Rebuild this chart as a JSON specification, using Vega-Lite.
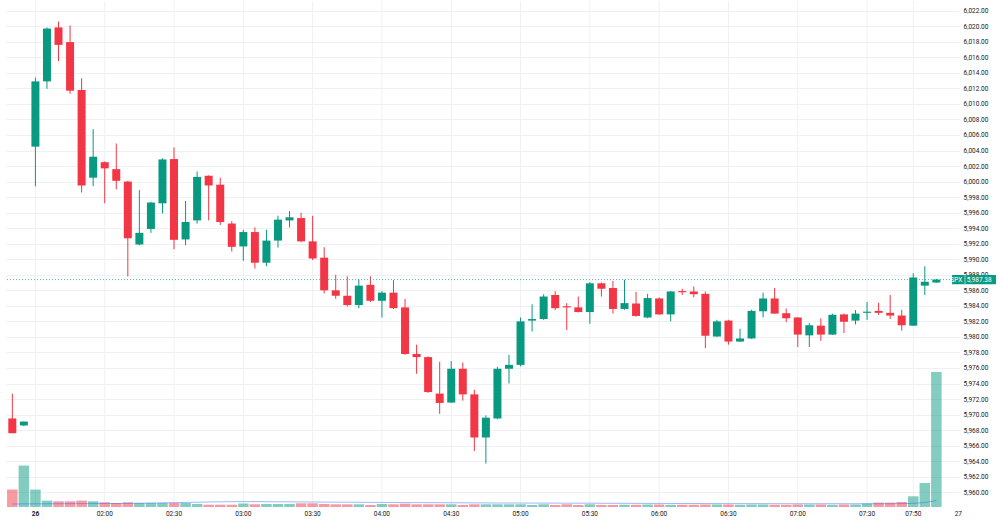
{
  "$schema": "https://vega.github.io/schema/vega-lite/v6.json",
  "width": 953,
  "height": 506,
  "padding": {"left": 5, "top": 0, "right": 0, "bottom": 0},
  "background": "#ffffff",
  "config": {"view": {"stroke": null}, "font": "Roboto"},
  "datasets": {
    "candles": [
      {"t": "2024-12-26T01:20:00Z", "open": 5969.5, "high": 5972.7, "low": 5967.6, "close": 5967.6, "volume": 174, "ma": 30},
      {"t": "2024-12-26T01:25:00Z", "open": 5968.6, "high": 5969.1, "low": 5968.5, "close": 5969.1, "volume": 414, "ma": 31},
      {"t": "2024-12-26T01:30:00Z", "open": 6004.5, "high": 6013.4, "low": 5999.4, "close": 6012.9, "volume": 174, "ma": 32},
      {"t": "2024-12-26T01:35:00Z", "open": 6012.9, "high": 6019.85, "low": 6011.95, "close": 6019.7, "volume": 64, "ma": 32},
      {"t": "2024-12-26T01:40:00Z", "open": 6019.85, "high": 6020.6, "low": 6015.5, "close": 6017.6, "volume": 57, "ma": 33},
      {"t": "2024-12-26T01:45:00Z", "open": 6017.96, "high": 6020.1, "low": 6011.3, "close": 6011.7, "volume": 57, "ma": 33},
      {"t": "2024-12-26T01:50:00Z", "open": 6011.8, "high": 6013.3, "low": 5998.6, "close": 5999.5, "volume": 64, "ma": 34},
      {"t": "2024-12-26T01:55:00Z", "open": 6000.5, "high": 6006.75, "low": 5999.4, "close": 6003.2, "volume": 57, "ma": 34},
      {"t": "2024-12-26T02:00:00Z", "open": 6002.5, "high": 6002.6, "low": 5997.2, "close": 6001.7, "volume": 47, "ma": 35},
      {"t": "2024-12-26T02:05:00Z", "open": 6001.6, "high": 6004.9, "low": 5999.0, "close": 6000.1, "volume": 40, "ma": 35},
      {"t": "2024-12-26T02:10:00Z", "open": 6000.0, "high": 6000.1, "low": 5987.8, "close": 5992.7, "volume": 47, "ma": 36},
      {"t": "2024-12-26T02:15:00Z", "open": 5991.9, "high": 5998.9, "low": 5991.8, "close": 5993.4, "volume": 40, "ma": 38},
      {"t": "2024-12-26T02:20:00Z", "open": 5993.9, "high": 5997.4, "low": 5993.4, "close": 5997.3, "volume": 40, "ma": 40},
      {"t": "2024-12-26T02:25:00Z", "open": 5997.2, "high": 6003.0, "low": 5995.9, "close": 6002.85, "volume": 40, "ma": 42},
      {"t": "2024-12-26T02:30:00Z", "open": 6002.9, "high": 6004.4, "low": 5991.3, "close": 5992.5, "volume": 40, "ma": 44},
      {"t": "2024-12-26T02:35:00Z", "open": 5992.55, "high": 5997.5, "low": 5991.8, "close": 5994.8, "volume": 40, "ma": 46},
      {"t": "2024-12-26T02:40:00Z", "open": 5995.0, "high": 6001.3, "low": 5994.6, "close": 6000.6, "volume": 30, "ma": 48},
      {"t": "2024-12-26T02:45:00Z", "open": 6000.75, "high": 6000.8, "low": 5995.0, "close": 5999.5, "volume": 23, "ma": 50},
      {"t": "2024-12-26T02:50:00Z", "open": 5999.6, "high": 6000.5, "low": 5994.4, "close": 5994.8, "volume": 23, "ma": 52},
      {"t": "2024-12-26T02:55:00Z", "open": 5994.6, "high": 5994.9, "low": 5991.0, "close": 5991.6, "volume": 23, "ma": 53},
      {"t": "2024-12-26T03:00:00Z", "open": 5991.65, "high": 5993.8, "low": 5989.8, "close": 5993.5, "volume": 35, "ma": 54},
      {"t": "2024-12-26T03:05:00Z", "open": 5993.5, "high": 5994.1, "low": 5988.8, "close": 5989.55, "volume": 27, "ma": 54},
      {"t": "2024-12-26T03:10:00Z", "open": 5989.55, "high": 5993.8, "low": 5989.1, "close": 5992.4, "volume": 30, "ma": 53},
      {"t": "2024-12-26T03:15:00Z", "open": 5992.4, "high": 5995.6, "low": 5991.5, "close": 5995.1, "volume": 30, "ma": 52},
      {"t": "2024-12-26T03:20:00Z", "open": 5995.0, "high": 5996.2, "low": 5994.1, "close": 5995.4, "volume": 30, "ma": 52},
      {"t": "2024-12-26T03:25:00Z", "open": 5995.3, "high": 5996.0, "low": 5992.2, "close": 5992.3, "volume": 37, "ma": 51},
      {"t": "2024-12-26T03:30:00Z", "open": 5992.3, "high": 5995.6, "low": 5989.9, "close": 5990.1, "volume": 37, "ma": 50},
      {"t": "2024-12-26T03:35:00Z", "open": 5990.2, "high": 5991.55, "low": 5985.6, "close": 5986.0, "volume": 30, "ma": 49},
      {"t": "2024-12-26T03:40:00Z", "open": 5986.0, "high": 5988.0, "low": 5984.9, "close": 5985.3, "volume": 27, "ma": 48},
      {"t": "2024-12-26T03:45:00Z", "open": 5985.3, "high": 5987.8, "low": 5983.9, "close": 5984.1, "volume": 27, "ma": 48},
      {"t": "2024-12-26T03:50:00Z", "open": 5984.1, "high": 5987.4, "low": 5983.7, "close": 5986.6, "volume": 27, "ma": 47},
      {"t": "2024-12-26T03:55:00Z", "open": 5986.7, "high": 5987.8, "low": 5984.5, "close": 5984.65, "volume": 20, "ma": 46},
      {"t": "2024-12-26T04:00:00Z", "open": 5984.65, "high": 5985.9, "low": 5982.5, "close": 5985.7, "volume": 30, "ma": 46},
      {"t": "2024-12-26T04:05:00Z", "open": 5985.7, "high": 5987.3, "low": 5983.6, "close": 5983.7, "volume": 27, "ma": 45},
      {"t": "2024-12-26T04:10:00Z", "open": 5983.8, "high": 5984.9, "low": 5977.7, "close": 5977.8, "volume": 33, "ma": 44},
      {"t": "2024-12-26T04:15:00Z", "open": 5977.8, "high": 5979.0, "low": 5975.25, "close": 5977.4, "volume": 27, "ma": 44},
      {"t": "2024-12-26T04:20:00Z", "open": 5977.4, "high": 5977.5, "low": 5972.8, "close": 5972.9, "volume": 27, "ma": 43},
      {"t": "2024-12-26T04:25:00Z", "open": 5972.7, "high": 5976.8, "low": 5970.1, "close": 5971.5, "volume": 27, "ma": 43},
      {"t": "2024-12-26T04:30:00Z", "open": 5971.55, "high": 5976.9, "low": 5971.5, "close": 5975.9, "volume": 27, "ma": 42},
      {"t": "2024-12-26T04:35:00Z", "open": 5975.9, "high": 5976.7, "low": 5971.8, "close": 5972.6, "volume": 20, "ma": 42},
      {"t": "2024-12-26T04:40:00Z", "open": 5972.6, "high": 5973.2, "low": 5965.3, "close": 5967.05, "volume": 27, "ma": 41},
      {"t": "2024-12-26T04:45:00Z", "open": 5967.05, "high": 5969.9, "low": 5963.7, "close": 5969.6, "volume": 27, "ma": 41},
      {"t": "2024-12-26T04:50:00Z", "open": 5969.5, "high": 5976.15, "low": 5969.4, "close": 5975.9, "volume": 27, "ma": 40},
      {"t": "2024-12-26T04:55:00Z", "open": 5975.9, "high": 5977.7, "low": 5974.0, "close": 5976.4, "volume": 27, "ma": 40},
      {"t": "2024-12-26T05:00:00Z", "open": 5976.4, "high": 5982.5, "low": 5976.2, "close": 5982.0, "volume": 27, "ma": 40},
      {"t": "2024-12-26T05:05:00Z", "open": 5982.1, "high": 5984.2, "low": 5980.7, "close": 5982.3, "volume": 20, "ma": 39},
      {"t": "2024-12-26T05:10:00Z", "open": 5982.3, "high": 5985.5, "low": 5982.2, "close": 5985.2, "volume": 27, "ma": 39},
      {"t": "2024-12-26T05:15:00Z", "open": 5985.4, "high": 5985.9, "low": 5983.45, "close": 5983.7, "volume": 20, "ma": 39},
      {"t": "2024-12-26T05:20:00Z", "open": 5983.95, "high": 5984.35, "low": 5980.9, "close": 5983.8, "volume": 27, "ma": 38},
      {"t": "2024-12-26T05:25:00Z", "open": 5983.8, "high": 5985.2, "low": 5983.15, "close": 5983.2, "volume": 20, "ma": 38},
      {"t": "2024-12-26T05:30:00Z", "open": 5983.2, "high": 5987.05, "low": 5981.7, "close": 5986.9, "volume": 27, "ma": 38},
      {"t": "2024-12-26T05:35:00Z", "open": 5986.9, "high": 5987.0, "low": 5985.2, "close": 5986.2, "volume": 20, "ma": 37},
      {"t": "2024-12-26T05:40:00Z", "open": 5986.3, "high": 5987.2, "low": 5983.0, "close": 5983.6, "volume": 20, "ma": 37},
      {"t": "2024-12-26T05:45:00Z", "open": 5983.6, "high": 5987.35, "low": 5983.5, "close": 5984.35, "volume": 22, "ma": 37},
      {"t": "2024-12-26T05:50:00Z", "open": 5984.3, "high": 5985.8, "low": 5982.6, "close": 5982.7, "volume": 22, "ma": 36},
      {"t": "2024-12-26T05:55:00Z", "open": 5982.5, "high": 5985.55, "low": 5982.4, "close": 5985.0, "volume": 25, "ma": 36},
      {"t": "2024-12-26T06:00:00Z", "open": 5984.95, "high": 5985.1, "low": 5982.85, "close": 5982.9, "volume": 25, "ma": 36},
      {"t": "2024-12-26T06:05:00Z", "open": 5982.9, "high": 5985.9, "low": 5982.0, "close": 5985.85, "volume": 22, "ma": 35},
      {"t": "2024-12-26T06:10:00Z", "open": 5985.9, "high": 5986.2, "low": 5985.4, "close": 5985.75, "volume": 22, "ma": 35},
      {"t": "2024-12-26T06:15:00Z", "open": 5985.85, "high": 5986.5, "low": 5985.1, "close": 5985.5, "volume": 22, "ma": 35},
      {"t": "2024-12-26T06:20:00Z", "open": 5985.55, "high": 5985.85, "low": 5978.55, "close": 5980.15, "volume": 25, "ma": 35},
      {"t": "2024-12-26T06:25:00Z", "open": 5980.05, "high": 5982.2, "low": 5980.0, "close": 5982.0, "volume": 25, "ma": 34},
      {"t": "2024-12-26T06:30:00Z", "open": 5982.1, "high": 5982.2, "low": 5979.0, "close": 5979.4, "volume": 25, "ma": 34},
      {"t": "2024-12-26T06:35:00Z", "open": 5979.4, "high": 5981.05, "low": 5979.35, "close": 5979.8, "volume": 22, "ma": 34},
      {"t": "2024-12-26T06:40:00Z", "open": 5979.8, "high": 5983.5, "low": 5979.75, "close": 5983.35, "volume": 25, "ma": 34},
      {"t": "2024-12-26T06:45:00Z", "open": 5983.3, "high": 5985.7, "low": 5982.5, "close": 5984.95, "volume": 25, "ma": 34},
      {"t": "2024-12-26T06:50:00Z", "open": 5984.95, "high": 5986.3, "low": 5983.0, "close": 5983.0, "volume": 22, "ma": 33},
      {"t": "2024-12-26T06:55:00Z", "open": 5983.05, "high": 5983.65, "low": 5981.9, "close": 5982.4, "volume": 22, "ma": 33},
      {"t": "2024-12-26T07:00:00Z", "open": 5982.5, "high": 5982.55, "low": 5978.7, "close": 5980.3, "volume": 25, "ma": 33},
      {"t": "2024-12-26T07:05:00Z", "open": 5980.2, "high": 5981.8, "low": 5978.7, "close": 5981.5, "volume": 25, "ma": 33},
      {"t": "2024-12-26T07:10:00Z", "open": 5981.45, "high": 5982.4, "low": 5979.5, "close": 5980.3, "volume": 25, "ma": 33},
      {"t": "2024-12-26T07:15:00Z", "open": 5980.3, "high": 5983.0, "low": 5980.25, "close": 5982.85, "volume": 22, "ma": 33},
      {"t": "2024-12-26T07:20:00Z", "open": 5982.9, "high": 5983.0, "low": 5980.5, "close": 5981.95, "volume": 25, "ma": 33},
      {"t": "2024-12-26T07:25:00Z", "open": 5982.1, "high": 5983.45, "low": 5981.6, "close": 5983.0, "volume": 25, "ma": 33},
      {"t": "2024-12-26T07:30:00Z", "open": 5983.1, "high": 5984.5, "low": 5982.2, "close": 5983.25, "volume": 34, "ma": 33},
      {"t": "2024-12-26T07:35:00Z", "open": 5983.35, "high": 5984.4, "low": 5982.85, "close": 5983.1, "volume": 44, "ma": 33},
      {"t": "2024-12-26T07:40:00Z", "open": 5983.1, "high": 5985.4, "low": 5982.3, "close": 5982.75, "volume": 44, "ma": 33},
      {"t": "2024-12-26T07:45:00Z", "open": 5982.75, "high": 5983.5, "low": 5980.8, "close": 5981.5, "volume": 50, "ma": 34},
      {"t": "2024-12-26T07:50:00Z", "open": 5981.45, "high": 5988.2, "low": 5981.4, "close": 5987.65, "volume": 107, "ma": 36},
      {"t": "2024-12-26T07:55:00Z", "open": 5986.6, "high": 5989.1, "low": 5985.4, "close": 5987.1, "volume": 240, "ma": 45},
      {"t": "2024-12-26T08:00:00Z", "open": 5987.0, "high": 5987.45, "low": 5986.95, "close": 5987.38, "volume": 1350, "ma": 64}
    ],
    "last": [{"symbol": "SPX", "last": 5987.38}],
    "ticks": [
      {"t": "2024-12-26T01:30:00Z", "label": "26"},
      {"t": "2024-12-26T02:00:00Z", "label": "02:00"},
      {"t": "2024-12-26T02:30:00Z", "label": "02:30"},
      {"t": "2024-12-26T03:00:00Z", "label": "03:00"},
      {"t": "2024-12-26T03:30:00Z", "label": "03:30"},
      {"t": "2024-12-26T04:00:00Z", "label": "04:00"},
      {"t": "2024-12-26T04:30:00Z", "label": "04:30"},
      {"t": "2024-12-26T05:00:00Z", "label": "05:00"},
      {"t": "2024-12-26T05:30:00Z", "label": "05:30"},
      {"t": "2024-12-26T06:00:00Z", "label": "06:00"},
      {"t": "2024-12-26T06:30:00Z", "label": "06:30"},
      {"t": "2024-12-26T07:00:00Z", "label": "07:00"},
      {"t": "2024-12-26T07:30:00Z", "label": "07:30"},
      {"t": "2024-12-26T07:50:00Z", "label": "07:50"},
      {"t": "2024-12-26T08:09:30Z", "label": "27"}
    ]
  },
  "data": {"name": "candles"},
  "layer": [
    {
      "data": {"name": "ticks"},
      "transform": [{"filter": "datum.label != '27'"}],
      "mark": {"type": "rule", "color": "#eef0f4", "strokeWidth": 1},
      "encoding": {
        "x": {
          "field": "t", "type": "temporal", "axis": null,
          "scale": {"type": "utc", "padding": 0, "domain": [{"year": 2024, "month": 12, "date": 26, "hours": 1, "minutes": 17, "seconds": 16, "utc": true}, {"year": 2024, "month": 12, "date": 26, "hours": 8, "minutes": 9, "seconds": 48, "utc": true}]}
        }
      }
    },
    {
      "mark": {"type": "bar", "size": 10.5, "fillOpacity": 0.5},
      "encoding": {
        "x": {"field": "t", "type": "temporal", "axis": null},
        "y": {"field": "volume", "type": "quantitative", "scale": {"domain": [0, 5060], "nice": false}, "axis": null},
        "color": {"condition": {"test": "datum.close >= datum.open", "value": "#089981"}, "value": "#f23645"}
      }
    },
    {
      "mark": {"type": "line", "color": "#2962ff", "strokeWidth": 1, "opacity": 0.45},
      "encoding": {
        "x": {"field": "t", "type": "temporal", "axis": null},
        "y": {"field": "ma", "type": "quantitative", "scale": {"domain": [0, 5060], "nice": false}, "axis": null}
      }
    },
    {
      "mark": {"type": "rule", "strokeWidth": 1},
      "encoding": {
        "x": {"field": "t", "type": "temporal", "axis": null},
        "y": {
          "field": "low", "type": "quantitative",
          "scale": {"domain": [5958.1, 6023.25], "nice": false, "zero": false},
          "axis": {
            "orient": "right", "title": null,
            "values": [5960, 5962, 5964, 5966, 5968, 5970, 5972, 5974, 5976, 5978, 5980, 5982, 5984, 5986, 5988, 5990, 5992, 5994, 5996, 5998, 6000, 6002, 6004, 6006, 6008, 6010, 6012, 6014, 6016, 6018, 6020, 6022],
            "format": ",.2f", "grid": true, "gridColor": "#eef0f4",
            "domain": false, "ticks": false, "labelPadding": 4,
            "labelFontSize": 6.5, "labelColor": "#131722"
          }
        },
        "y2": {"field": "high"},
        "color": {"condition": {"test": "datum.close >= datum.open", "value": "#089981"}, "value": "#f23645"}
      }
    },
    {
      "mark": {"type": "bar", "size": 8},
      "encoding": {
        "x": {"field": "t", "type": "temporal", "axis": null},
        "y": {"field": "open", "type": "quantitative", "scale": {"domain": [5958.1, 6023.25], "nice": false, "zero": false}, "axis": null},
        "y2": {"field": "close"},
        "color": {"condition": {"test": "datum.close >= datum.open", "value": "#089981"}, "value": "#f23645"}
      }
    },
    {
      "data": {"name": "ticks"},
      "transform": [{"filter": "datum.label != '26'"}],
      "mark": {"type": "text", "fontSize": 6.5, "color": "#131722", "align": "center", "baseline": "middle", "clip": false},
      "encoding": {
        "x": {"field": "t", "type": "temporal", "axis": null},
        "y": {"datum": 5957.25, "type": "quantitative", "scale": {"domain": [5958.1, 6023.25], "nice": false, "zero": false}, "axis": null},
        "text": {"field": "label"}
      }
    },
    {
      "data": {"name": "ticks"},
      "transform": [{"filter": "datum.label == '26'"}],
      "mark": {"type": "text", "fontSize": 6.5, "fontWeight": "bold", "color": "#131722", "align": "center", "baseline": "middle", "clip": false},
      "encoding": {
        "x": {"field": "t", "type": "temporal", "axis": null},
        "y": {"datum": 5957.25, "type": "quantitative", "scale": {"domain": [5958.1, 6023.25], "nice": false, "zero": false}, "axis": null},
        "text": {"field": "label"}
      }
    },
    {
      "data": {"name": "last"},
      "mark": {"type": "rule", "color": "#089981", "strokeDash": [1, 2], "strokeWidth": 1, "opacity": 0.7},
      "encoding": {
        "y": {"field": "last", "type": "quantitative", "scale": {"domain": [5958.1, 6023.25], "nice": false, "zero": false}, "axis": null}
      }
    },
    {
      "data": {"name": "last"},
      "mark": {"type": "rect", "color": "#089981", "clip": false},
      "encoding": {
        "x": {"datum": {"year": 2024, "month": 12, "date": 26, "hours": 8, "minutes": 6, "seconds": 48, "utc": true}, "type": "temporal", "axis": null},
        "x2": {"datum": {"year": 2024, "month": 12, "date": 26, "hours": 8, "minutes": 25, "seconds": 48, "utc": true}},
        "y": {"datum": 5986.78, "type": "quantitative", "scale": {"domain": [5958.1, 6023.25], "nice": false, "zero": false}, "axis": null},
        "y2": {"datum": 5987.98}
      }
    },
    {
      "data": {"name": "last"},
      "mark": {"type": "rule", "color": "#ffffff", "opacity": 0.6, "clip": false},
      "encoding": {
        "x": {"datum": {"year": 2024, "month": 12, "date": 26, "hours": 8, "minutes": 12, "seconds": 24, "utc": true}, "type": "temporal", "axis": null},
        "y": {"datum": 5986.78, "type": "quantitative", "scale": {"domain": [5958.1, 6023.25], "nice": false, "zero": false}, "axis": null},
        "y2": {"datum": 5987.98}
      }
    },
    {
      "data": {"name": "last"},
      "mark": {"type": "text", "color": "#ffffff", "fontSize": 6.5, "align": "center", "baseline": "middle", "clip": false},
      "encoding": {
        "x": {"datum": {"year": 2024, "month": 12, "date": 26, "hours": 8, "minutes": 8, "seconds": 42, "utc": true}, "type": "temporal", "axis": null},
        "y": {"field": "last", "type": "quantitative", "scale": {"domain": [5958.1, 6023.25], "nice": false, "zero": false}, "axis": null},
        "text": {"field": "symbol"}
      }
    },
    {
      "data": {"name": "last"},
      "mark": {"type": "text", "color": "#ffffff", "fontSize": 6.5, "align": "center", "baseline": "middle", "clip": false},
      "encoding": {
        "x": {"datum": {"year": 2024, "month": 12, "date": 26, "hours": 8, "minutes": 18, "seconds": 30, "utc": true}, "type": "temporal", "axis": null},
        "y": {"field": "last", "type": "quantitative", "scale": {"domain": [5958.1, 6023.25], "nice": false, "zero": false}, "axis": null},
        "text": {"field": "last", "format": ",.2f"}
      }
    }
  ],
  "resolve": {"scale": {"y": "independent"}}
}
